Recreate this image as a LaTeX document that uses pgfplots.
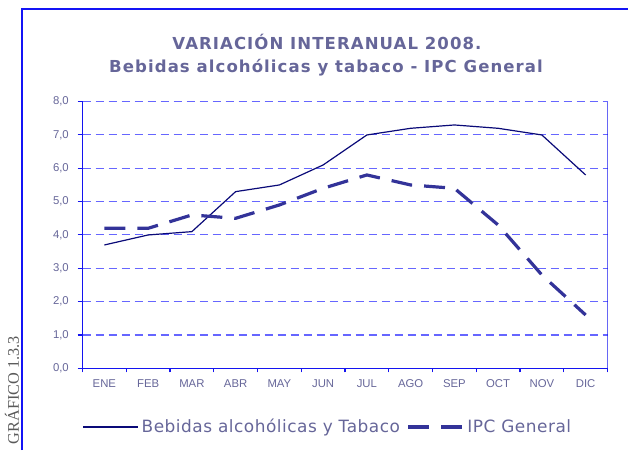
\documentclass[border=0pt]{standalone}
\usepackage{pgfplots}
\pgfplotsset{compat=1.18}
\usepackage{fontspec}
\setmainfont{DejaVu Sans}
\newfontfamily\titlef[LetterSpace=6.5]{DejaVu Sans}
\newfontfamily\legf[LetterSpace=3]{DejaVu Sans}
\newfontfamily\arialf{Liberation Sans}
\newfontfamily\timesf{Liberation Serif}
\definecolor{framec}{RGB}{20,20,245}
\definecolor{axisc}{RGB}{20,20,240}
\definecolor{gridc}{RGB}{102,102,255}
\definecolor{solidc}{RGB}{10,10,120}
\definecolor{dashc}{RGB}{51,51,153}
\definecolor{textc}{RGB}{102,102,153}
\definecolor{grafc}{RGB}{90,90,90}
\begin{document}
\begin{tikzpicture}[x=0.75pt,y=0.75pt]
\useasboundingbox (0,0) rectangle (628,450);
% outer frame
\draw[framec, line width=1.1pt] (22,0) -- (22,441) -- (628,441);
% side label
\node[rotate=90, anchor=east, font=\timesf\fontsize{12.2}{14}\selectfont, text=grafc, inner sep=0pt] at (12,114) {GRÁFICO 1.3.3};
% titles
\node[font=\titlef\bfseries\fontsize{12.4}{15}\selectfont, text=textc, inner sep=0pt] at (327,408) {VARIACIÓN INTERANUAL 2008.};
\node[font=\titlef\bfseries\fontsize{12.4}{15}\selectfont, text=textc, inner sep=0pt] at (326,382) {Bebidas alcohólicas y tabaco - IPC General};
\begin{axis}[
  at={(61.875pt,61.275pt)}, anchor=south west,
  scale only axis, width=393.75pt, height=200pt,
  xmin=0.5, xmax=12.5, ymin=0, ymax=8,
  axis x line*=bottom, axis y line*=left,
  axis line style={axisc, line width=1.1pt, -},
  xtick={1,...,12},
  xticklabels={ENE,FEB,MAR,ABR,MAY,JUN,JUL,AGO,SEP,OCT,NOV,DIC},
  major x tick style={draw=none},
  minor xtick={0.5,1.5,...,12.5},
  minor x tick style={axisc, line width=0.8pt},
  minor tick length=3pt,
  ytick={0,1,...,8},
  major y tick style={axisc, line width=0.8pt},
  major tick length=3.75pt,
  tick align=outside,
  ymajorgrids,
  major grid style={gridc, line width=0.8pt, dash pattern=on 6pt off 3.75pt},
  xticklabel style={font=\arialf\fontsize{8.5}{10}\selectfont, text=textc, yshift=-1pt},
  yticklabel style={font=\arialf\fontsize{8.5}{10}\selectfont, text=textc, xshift=-3pt,
    /pgf/number format/.cd, fixed, fixed zerofill, precision=1, use comma, assume math mode=true},
  legend columns=2,
  legend style={draw=none, fill=none, at={(0,-0.2202)}, anchor=west, inner sep=0pt,
    font=\legf\fontsize{12.7}{15}\selectfont, text=textc,
    /tikz/every even column/.append style={column sep=3pt}},
  legend cell align=left,
  legend image code/.code={\draw[#1] (0pt,0pt) -- (41.25pt,0pt);},
]
\addplot[solidc, line width=0.9pt] coordinates {
 (1,3.7) (2,4.0) (3,4.1) (4,5.3) (5,5.5) (6,6.1) (7,7.0) (8,7.2) (9,7.3) (10,7.2) (11,7.0) (12,5.8)};
\addlegendentry{Bebidas alcohólicas y Tabaco}
\addplot[dashc, line width=2.4pt, dash pattern=on 15.75pt off 9pt] coordinates {
 (1,4.2) (2,4.2) (3,4.6) (4,4.5) (5,4.9) (6,5.4) (7,5.8) (8,5.5) (9,5.4) (10,4.3) (11,2.8) (12,1.6)};
\addlegendentry{IPC General}
\draw[axisc, line width=1.1pt] (rel axis cs:1,0) -- (rel axis cs:1,1);
\end{axis}
\end{tikzpicture}
\end{document}
